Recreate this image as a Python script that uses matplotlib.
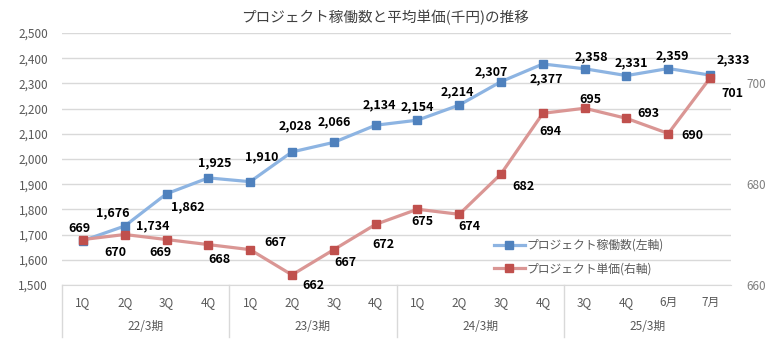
import matplotlib.pyplot as plt
from matplotlib import transforms

plt.rcParams['font.family'] = ['Noto Sans CJK JP', 'DejaVu Sans']

# data
quarters = ['1Q', '2Q', '3Q', '4Q', '1Q', '2Q', '3Q', '4Q',
            '1Q', '2Q', '3Q', '4Q', '3Q', '4Q', '6月', '7月']
periods = ['22/3期', '23/3期', '24/3期', '25/3期']
projects = [1676, 1734, 1862, 1925, 1910, 2028, 2066, 2134,
            2154, 2214, 2307, 2377, 2358, 2331, 2359, 2333]
price = [669, 670, 669, 668, 667, 662, 667, 672,
         675, 674, 682, 694, 695, 693, 690, 701]

# label offsets (pixels) so they sit like the original
blue_off = [(30, 28), (28, 0), (21, -13), (6, 15), (12, 25), (3, 26), (0, 21), (4, 20),
            (0, 13), (-2, 13), (-10, 10), (4, -15), (7, 12), (5, 13), (4, 13), (23, 15)]
red_off = [(-3, 11), (-9, -18), (-6, -13), (11, -15), (25, 7), (21, -11), (12, -13), (8, -20),
           (5, -12), (10, -12), (22, -13), (8, -18), (6, 9), (22, 5), (24, -2), (22, -16)]

gray = '#595959'
x = list(range(len(quarters)))

# figure
fig = plt.figure(figsize=(7.73, 3.46), dpi=100)
ax = fig.add_axes([62 / 773, 1 - 285 / 346, 669 / 773, 252 / 346])
ax2 = ax.twinx()

ax.plot(x, projects, color='#8DB4E2', lw=2.3, marker='s', ms=6,
        mfc='#4F81BD', mec='#4F81BD', label='プロジェクト稼働数(左軸)', zorder=3)
ax2.plot(x, price, color='#DA9694', lw=2.3, marker='s', ms=6,
         mfc='#C0504D', mec='#C0504D', label='プロジェクト単価(右軸)', zorder=3)

for i, v in enumerate(projects):
    ax.annotate(f'{v:,}', (i, v), xytext=blue_off[i], textcoords='offset pixels',
                ha='center', va='center', fontsize=9, fontweight='bold', color='black')
for i, v in enumerate(price):
    ax2.annotate(f'{v}', (i, v), xytext=red_off[i], textcoords='offset pixels',
                 ha='center', va='center', fontsize=9, fontweight='bold', color='black')

ax.set_xlim(-0.5, len(quarters) - 0.5)
ax.set_ylim(1500, 2500)
ax.set_yticks(range(1500, 2501, 100))
ax.set_yticklabels([f'{v:,}' for v in range(1500, 2501, 100)])
ax2.set_ylim(660, 660 + 252 / 5.05)
ax2.set_yticks([660, 680, 700])

ax.grid(axis='y', color='#D9D9D9', lw=1)
ax.set_axisbelow(True)
for a in (ax, ax2):
    for s in a.spines.values():
        s.set_visible(False)
ax.spines['bottom'].set_visible(True)
ax.spines['bottom'].set_color('#D9D9D9')

ax.tick_params(axis='y', length=0, pad=10, labelsize=8.5, labelcolor=gray)
ax2.tick_params(axis='y', length=0, pad=11, labelsize=8.5, labelcolor='#7F7F7F')
ax.set_xticks(x)
ax.set_xticklabels(quarters)
ax.tick_params(axis='x', length=0, pad=8, labelsize=8.5, labelcolor=gray)

# period labels and separators under the axis
trans = transforms.blended_transform_factory(ax.transData, ax.transAxes)
for k, p in enumerate(periods):
    ax.text(4 * k + 1.5, -42 / 252, p, transform=trans, ha='center', va='center',
            fontsize=8.5, color=gray)
for xb in [-0.5, 3.5, 7.5, 11.5]:
    ax.plot([xb, xb], [0, -52 / 252], transform=trans, color='#D9D9D9', lw=1, clip_on=False)

fig.text(385 / 773, 1 - 18 / 346, 'プロジェクト稼働数と平均単価(千円)の推移',
         ha='center', va='center', fontsize=10.5, color='#404040')

h1, l1 = ax.get_legend_handles_labels()
h2, l2 = ax2.get_legend_handles_labels()
ax2.legend(h1 + h2, l1 + l2, loc='upper left', bbox_to_anchor=(488 / 773, 1 - 233 / 346),
           bbox_transform=fig.transFigure, frameon=False, fontsize=8.5, borderpad=0,
           handlelength=2.6, handletextpad=0.2, labelspacing=0.9, labelcolor=gray)

plt.savefig('out.png')
